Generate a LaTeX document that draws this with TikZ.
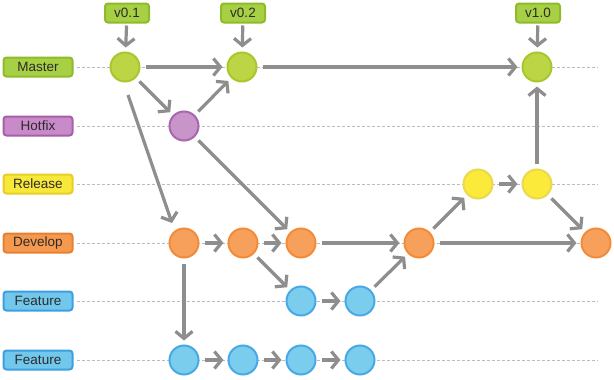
\documentclass[tikz,border=0pt]{standalone}
\usepackage{fontspec}
\setmainfont{Liberation Sans}
\usetikzlibrary{arrows.meta,calc}
\definecolor{arrowgray}{HTML}{8E8E8E}
\definecolor{guidegray}{HTML}{BBBBBB}
\definecolor{txt}{HTML}{2B2B2B}
\definecolor{gLf}{HTML}{A8D045}\definecolor{gLb}{HTML}{8DBB2A}
\definecolor{gCf}{HTML}{BCD544}\definecolor{gCb}{HTML}{A6C82E}
\definecolor{pLf}{HTML}{C98AC9}\definecolor{pLb}{HTML}{A560A8}
\definecolor{pCf}{HTML}{C994C9}\definecolor{pCb}{HTML}{A966AD}
\definecolor{yLf}{HTML}{F7E83A}\definecolor{yLb}{HTML}{E6CE23}
\definecolor{yCf}{HTML}{FCEA3A}\definecolor{yCb}{HTML}{EAD850}
\definecolor{oLf}{HTML}{F5994F}\definecolor{oLb}{HTML}{E8802F}
\definecolor{oCf}{HTML}{F6A05C}\definecolor{oCb}{HTML}{F28C3A}
\definecolor{bLf}{HTML}{72C8EC}\definecolor{bLb}{HTML}{3E9FE0}
\definecolor{bCf}{HTML}{7BCDEE}\definecolor{bCb}{HTML}{4BA8E6}
\begin{document}
\begin{tikzpicture}[x=1pt,y=-1pt,
  lbl/.style={rounded corners=3pt, minimum width=69pt, minimum height=19pt, line width=2pt, text=txt, font=\fontsize{13.5}{15}\selectfont, inner sep=0pt},
  tagbox/.style={lbl, minimum width=44pt},
  commit/.style={circle, minimum size=29pt, line width=2pt, inner sep=0pt},
  gl/.style={fill=gLf, draw=gLb}, pl/.style={fill=pLf, draw=pLb}, yl/.style={fill=yLf, draw=yLb},
  ol/.style={fill=oLf, draw=oLb}, bl/.style={fill=bLf, draw=bLb},
  gc/.style={commit, fill=gCf, draw=gCb}, pc/.style={commit, fill=pCf, draw=pCb}, yc/.style={commit, fill=yCf, draw=yCb},
  oc/.style={commit, fill=oCf, draw=oCb}, bc/.style={commit, fill=bCf, draw=bCb},
  guide/.style={draw=guidegray, line width=0.9pt, dash pattern=on 3pt off 2pt},
  arr/.style={draw=arrowgray, line width=3.2pt, -{Straight Barb[length=7pt, width=17pt]}, shorten <=5pt, shorten >=4pt}]
\useasboundingbox (0,0) rectangle (614,380);
% labels
\node[lbl,gl] (lM) at (38,67) {Master};
\node[lbl,pl] (lH) at (38,126) {Hotfix};
\node[lbl,yl] (lR) at (38,184) {Release};
\node[lbl,ol] (lD) at (38,243) {Develop};
\node[lbl,bl] (lF1) at (38,301) {Feature};
\node[lbl,bl] (lF2) at (38,360) {Feature};
% guide ends
\coordinate (eM) at (597,67);
\coordinate (eH) at (597,126);
\coordinate (eR) at (597,184);
\coordinate (eD) at (597,243);
\coordinate (eF1) at (597,301);
\coordinate (eF2) at (597,360);
\foreach \a/\b in {lM/eM,lH/eH,lR/eR,lD/eD,lF1/eF1,lF2/eF2}
  \draw[guide] ([xshift=3pt]\a.east) -- (\b);
% tags
\node[tagbox,gl] (t1) at (127,13) {v0.1};
\node[tagbox,gl] (t2) at (243,13) {v0.2};
\node[tagbox,gl] (t3) at (538,13) {v1.0};
% commits
\node[gc] (M1) at (125,67) {};
\node[gc] (M2) at (242,67) {};
\node[gc] (M3) at (537,67) {};
\node[pc] (H1) at (184,126) {};
\node[yc] (R1) at (478,184) {};
\node[yc] (R2) at (537,184) {};
\node[oc] (D1) at (184,243) {};
\node[oc] (D2) at (243,243) {};
\node[oc] (D3) at (301,243) {};
\node[oc] (D4) at (419,243) {};
\node[oc] (D5) at (596,243) {};
\node[bc] (Fa) at (301,301) {};
\node[bc] (Fb) at (360,301) {};
\node[bc] (Ga) at (184,360) {};
\node[bc] (Gb) at (243,360) {};
\node[bc] (Gc) at (301,360) {};
\node[bc] (Gd) at (360,360) {};
% tag arrows
\draw[arr, shorten <=2pt] (t1) -- (M1);
\draw[arr, shorten <=2pt] (t2) -- (M2);
\draw[arr, shorten <=2pt] (t3) -- (M3);
% edges
\draw[arr] (M1) -- (M2);
\draw[arr] (M2) -- (M3);
\draw[arr] (M1) -- (H1);
\draw[arr] (H1) -- (M2);
\draw[arr, shorten <=0pt, shorten >=0pt] ($(M1)+(3,28)$) -- ($(D1)+(-12,-20)$);
\draw[arr] (H1) -- (D3);
\draw[arr] (D1) -- (D2);
\draw[arr] (D2) -- (D3);
\draw[arr] (D3) -- (D4);
\draw[arr] (D4) -- (D5);
\draw[arr] (D2) -- (Fa);
\draw[arr] (Fa) -- (Fb);
\draw[arr] (Fb) -- (D4);
\draw[arr] (D4) -- (R1);
\draw[arr] (R1) -- (R2);
\draw[arr] (R2) -- (M3);
\draw[arr] (R2) -- (D5);
\draw[arr] (D1) -- (Ga);
\draw[arr] (Ga) -- (Gb);
\draw[arr] (Gb) -- (Gc);
\draw[arr] (Gc) -- (Gd);
\end{tikzpicture}
\end{document}
